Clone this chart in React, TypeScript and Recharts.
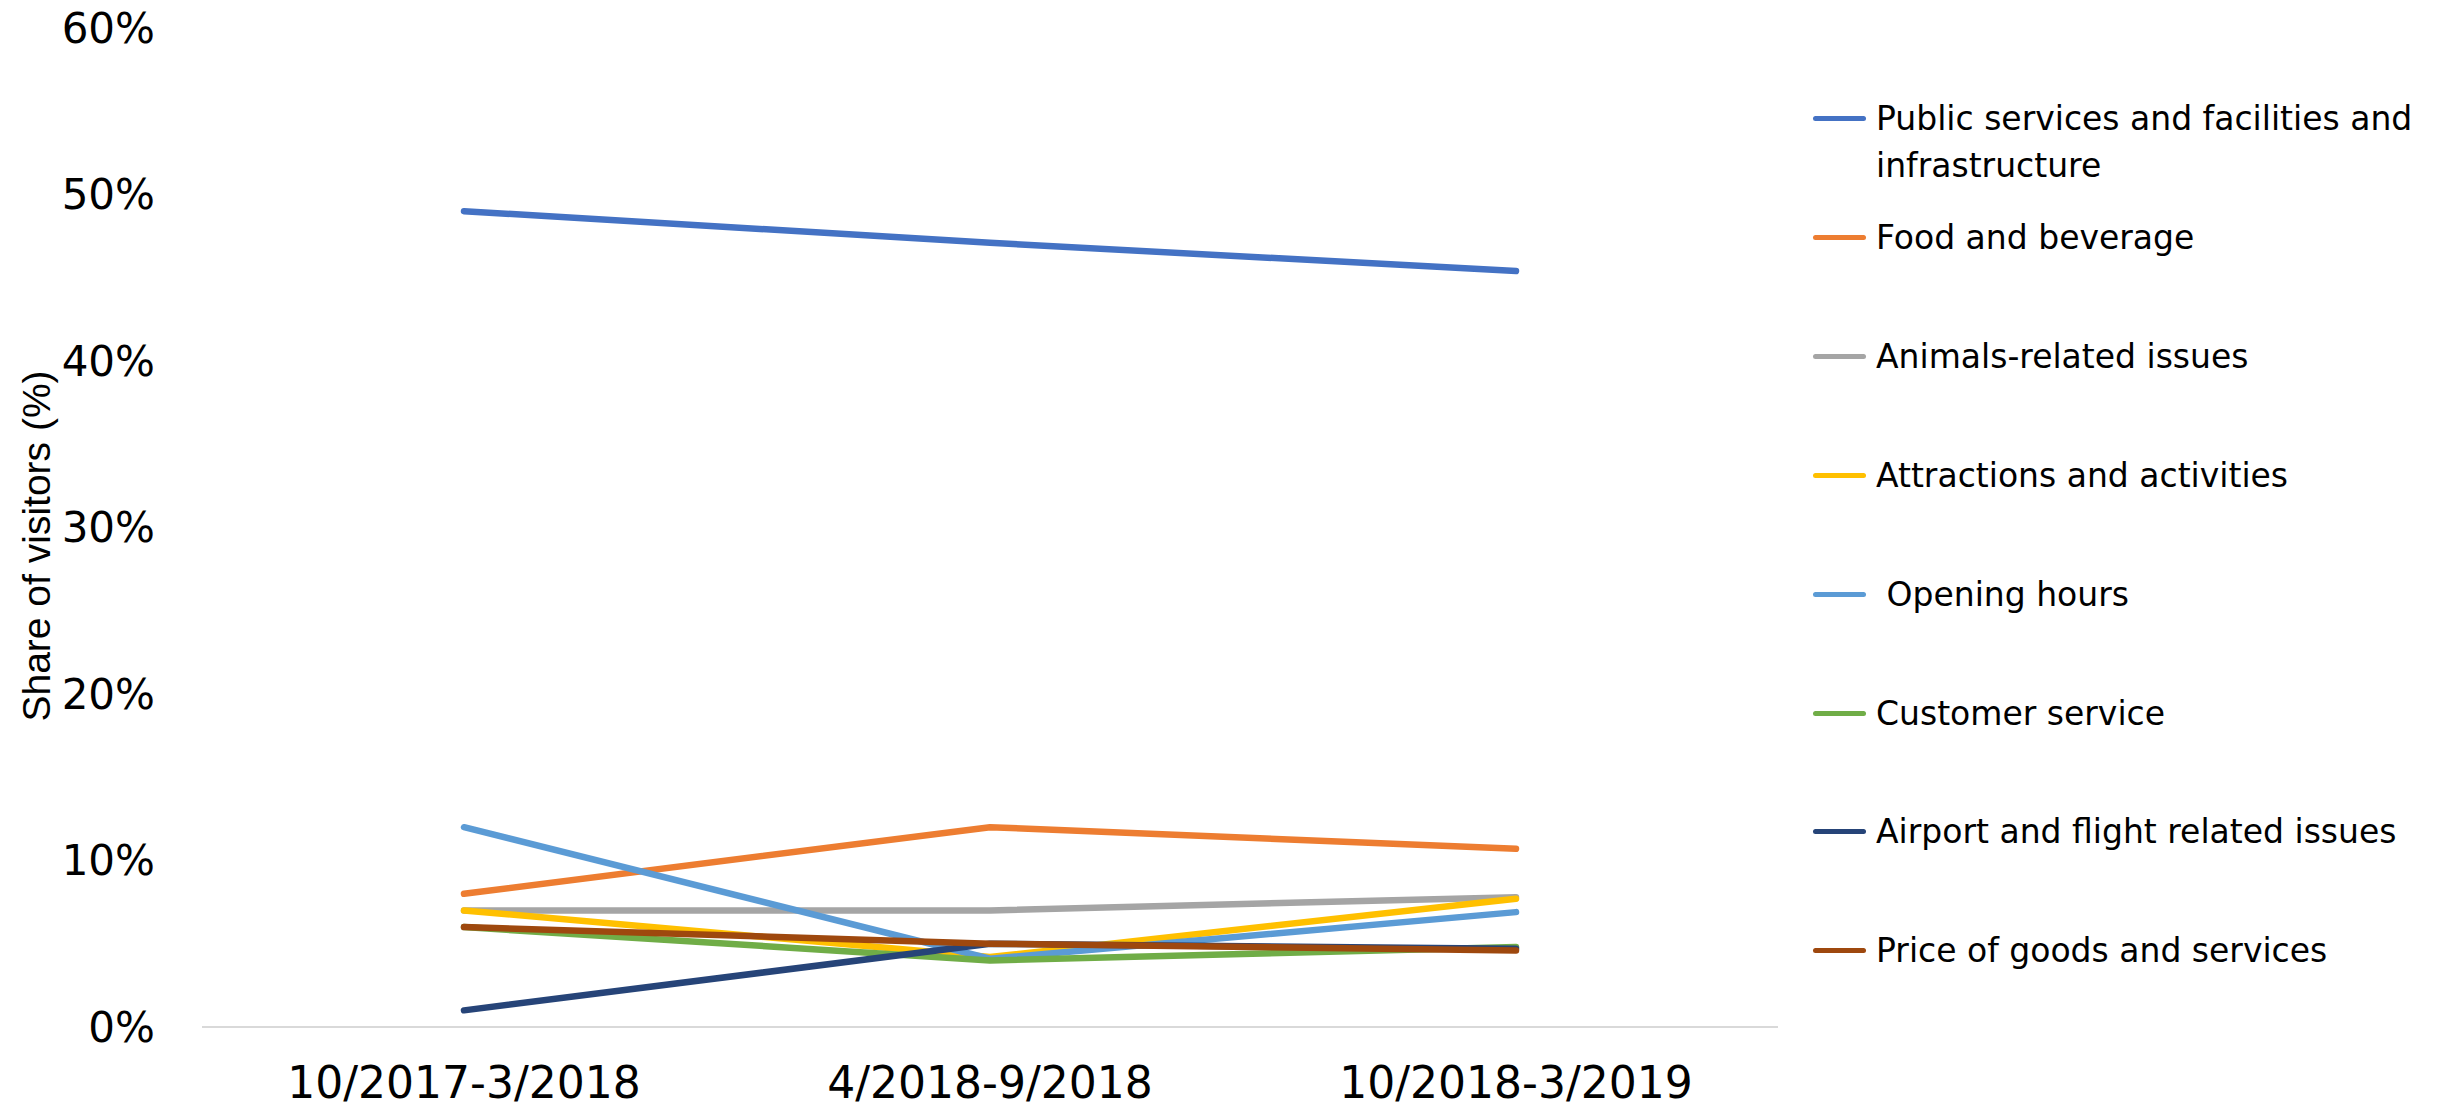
import { LineChart, Line, XAxis, YAxis } from "recharts";

const periods = ["10/2017-3/2018", "4/2018-9/2018", "10/2018-3/2019"];

// share of visitors, %
const publicServices = [49.0, 47.1, 45.4];
const foodBeverage = [8.0, 12.0, 10.7];
const animalsIssues = [7.0, 7.0, 7.8];
const attractions = [7.0, 4.2, 7.7];
const openingHours = [12.0, 4.1, 6.9];
const customerService = [6.0, 4.0, 4.8];
const airportFlight = [1.0, 5.0, 4.7];
const priceGoods = [6.0, 5.0, 4.6];

const yTicks = [0, 10, 20, 30, 40, 50, 60];

const series = [
  { key: "public", name: "Public services and facilities and infrastructure", values: publicServices, color: "#4472C4" },
  { key: "food", name: "Food and beverage", values: foodBeverage, color: "#ED7D31" },
  { key: "animals", name: "Animals-related issues", values: animalsIssues, color: "#A5A5A5" },
  { key: "attractions", name: "Attractions and activities", values: attractions, color: "#FFC000" },
  { key: "opening", name: " Opening hours", values: openingHours, color: "#5B9BD5" },
  { key: "customer", name: "Customer service", values: customerService, color: "#70AD47" },
  { key: "airport", name: "Airport and flight related issues", values: airportFlight, color: "#264478" },
  { key: "price", name: "Price of goods and services", values: priceGoods, color: "#9E480E" },
];

const data = periods.map((period, i) => {
  const row: Record<string, string | number> = { period };
  series.forEach((s) => {
    row[s.key] = s.values[i];
  });
  return row;
});

const wideFont = "'DejaVu Sans', sans-serif";
const titleFont = "'Liberation Sans', Arial, sans-serif";

const YTitle = () => (
  <text
    x={36}
    y={546}
    transform="rotate(-90 36 546)"
    textAnchor="middle"
    dominantBaseline="central"
    fontSize={39}
    fontFamily={titleFont}
    fill="#000"
  >
    Share of visitors (%)
  </text>
);

const ChartLegend = () => (
  <div style={{ position: "absolute", left: 1813, top: 0 }}>
    {series.map((s, i) => (
      <div
        key={s.key}
        style={{
          position: "absolute",
          top: 95 + i * 118.9,
          left: 0,
          display: "flex",
          alignItems: "flex-start",
          width: 630,
        }}
      >
        <div
          style={{
            width: 53,
            height: 5,
            borderRadius: 3,
            background: s.color,
            marginTop: 21,
            flexShrink: 0,
          }}
        />
        <div
          style={{
            marginLeft: 10,
            width: 566,
            fontFamily: wideFont,
            fontSize: 33,
            lineHeight: "47px",
            color: "#000",
            whiteSpace: "pre-wrap",
          }}
        >
          {s.name}
        </div>
      </div>
    ))}
  </div>
);

const App = () => {
  return (
    <div
      style={{
        position: "absolute",
        left: 0,
        top: 0,
        width: 2445,
        height: 1112,
        background: "#fff",
      }}
    >
      <LineChart
        width={2445}
        height={1112}
        data={data}
        margin={{ top: 28, right: 667, bottom: 0, left: 0 }}
      >
        <XAxis
          dataKey="period"
          height={85}
          padding={{ left: 262, right: 262 }}
          axisLine={{ stroke: "#D9D9D9", strokeWidth: 2 }}
          tickLine={false}
          tickMargin={34}
          tick={{ fill: "#000", fontSize: 44, fontFamily: wideFont }}
          interval={0}
        />
        <YAxis
          width={202}
          domain={[0, 60]}
          ticks={yTicks}
          axisLine={false}
          tickLine={false}
          tickMargin={41}
          tickFormatter={(v: number) => `${v}%`}
          tick={{ fill: "#000", fontSize: 42, fontFamily: wideFont }}
          label={<YTitle />}
        />
        {series.map((s) => (
          <Line
            key={s.key}
            dataKey={s.key}
            name={s.name}
            stroke={s.color}
            strokeWidth={6.5}
            strokeLinecap="round"
            strokeLinejoin="round"
            dot={false}
            activeDot={false}
            isAnimationActive={false}
          />
        ))}
      </LineChart>
      <ChartLegend />
    </div>
  );
};

export default App;
